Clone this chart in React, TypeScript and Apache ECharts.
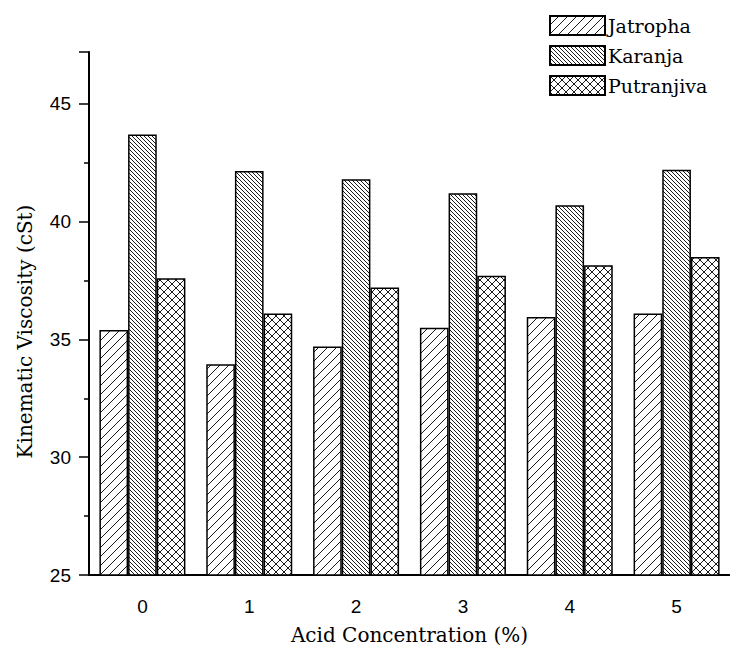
import React, { useEffect, useRef } from "react";
import * as echarts from "echarts";

const categories = ["0", "1", "2", "3", "4", "5"];
const jatropha = [35.4, 33.95, 34.7, 35.5, 35.95, 36.1];
const karanja = [43.7, 42.15, 41.8, 41.2, 40.7, 42.2];
const putranjiva = [37.6, 36.1, 37.2, 37.7, 38.15, 38.5];
const seriesNames = ["Jatropha", "Karanja", "Putranjiva"];

function makePattern(size: number, kinds: string[]) {
  const c = document.createElement("canvas");
  c.width = size;
  c.height = size;
  const ctx = c.getContext("2d") as CanvasRenderingContext2D;
  ctx.fillStyle = "#ffffff";
  ctx.fillRect(0, 0, size, size);
  ctx.strokeStyle = "#1a1a1a";
  ctx.lineWidth = 1;
  for (const kind of kinds) {
    for (let k = -1; k <= 1; k++) {
      ctx.beginPath();
      if (kind === "/") {
        ctx.moveTo(k * size, size);
        ctx.lineTo(k * size + size, 0);
      } else {
        ctx.moveTo(k * size, 0);
        ctx.lineTo(k * size + size, size);
      }
      ctx.stroke();
    }
  }
  return { image: c, repeat: "repeat", imageWidth: size, imageHeight: size };
}

export default function App() {
  const ref = useRef<HTMLDivElement>(null);
  useEffect(() => {
    if (!ref.current) return;
    const chart = echarts.init(ref.current, null, { renderer: "svg" });
    const pats = [
      makePattern(9, ["/"]),
      makePattern(4, ["\\"]),
      makePattern(8, ["/", "\\"]),
    ];
    const datas = [jatropha, karanja, putranjiva];
    const serif = "DejaVu Serif";
    const sans = "Liberation Sans, Roboto";
    chart.setOption({
      animation: false,
      backgroundColor: "#ffffff",
      legend: {
        orient: "vertical",
        left: 544,
        top: 10,
        itemWidth: 55,
        itemHeight: 19,
        itemGap: 9,
        icon: "rect",
        data: seriesNames,
        textStyle: {
          fontFamily: serif,
          fontSize: 19,
          color: "#000",
          padding: [0, 0, 0, -2],
        },
      },
      grid: { left: 89, top: 52, right: -9, bottom: 78 },
      xAxis: [
        {
          type: "category",
          data: categories,
          position: "bottom",
          name: "Acid Concentration (%)",
          nameLocation: "middle",
          nameGap: 50,
          nameTextStyle: { fontFamily: serif, fontSize: 20, color: "#000" },
          axisLine: { lineStyle: { color: "#000", width: 2 } },
          axisTick: {
            alignWithLabel: true,
            length: 10,
            lineStyle: { color: "#000", width: 1.5 },
          },
          axisLabel: {
            fontFamily: sans,
            fontSize: 19,
            color: "#000",
            margin: 22,
          },
        },
        {
          type: "category",
          data: categories,
          position: "bottom",
          axisLine: { show: false },
          axisTick: {
            alignWithLabel: false,
            length: 5,
            lineStyle: { color: "#000", width: 1.5 },
          },
          axisLabel: { show: false },
        },
      ],
      yAxis: {
        type: "value",
        min: 25,
        max: 47.2,
        interval: 5,
        name: "Kinematic Viscosity (cSt)",
        nameLocation: "middle",
        nameGap: 54,
        nameTextStyle: {
          fontFamily: serif,
          fontSize: 20,
          color: "#000",
          padding: [0, 36, 0, 0],
        },
        axisLine: { show: true, lineStyle: { color: "#000", width: 2 } },
        axisTick: { show: true, length: 10, lineStyle: { color: "#000", width: 1.5 } },
        minorTick: {
          show: true,
          splitNumber: 2,
          length: 5,
          lineStyle: { color: "#000", width: 1.5 },
        },
        splitLine: { show: false },
        axisLabel: {
          fontFamily: sans,
          fontSize: 19,
          color: "#000",
          margin: 18,
          showMaxLabel: false,
        },
      },
      series: seriesNames.map((n, i) => ({
        name: n,
        type: "bar",
        xAxisIndex: 0,
        data: datas[i],
        barGap: "0%",
        barCategoryGap: "19.5%",
        itemStyle: {
          color: pats[i],
          borderColor: "#000",
          borderWidth: 1.5,
        },
      })),
    });
    return () => chart.dispose();
  }, []);
  return (
    <div
      ref={ref}
      style={{ position: "fixed", left: 0, top: 0, width: 730, height: 653 }}
    />
  );
}
